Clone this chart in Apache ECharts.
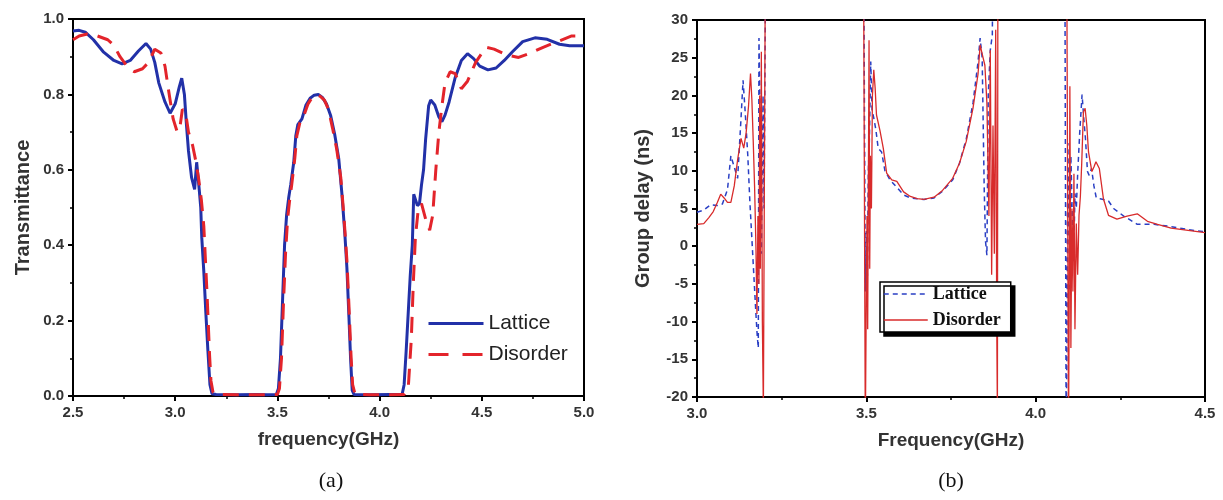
<!DOCTYPE html>
<html><head><meta charset="utf-8">
<script src="https://cdn.jsdelivr.net/npm/echarts@6/dist/echarts.min.js"></script>
<style>html,body{margin:0;padding:0;background:#fff}#c{width:1223px;height:500px}</style>
</head><body><div id="c"></div>
<script>
// ---------- (a) Transmittance ----------
const transFreqLattice = [2.50,2.53,2.56,2.60,2.65,2.70,2.74,2.78,2.82,2.857,2.88,2.90,2.92,2.95,2.975,3.00,3.02,3.032,3.045,3.055,3.065,3.08,3.095,3.10,3.105,3.113,3.118,3.125,3.13,3.14,3.15,3.16,3.17,3.18,3.20,3.30,3.40,3.45,3.495,3.505,3.515,3.525,3.535,3.545,3.555,3.565,3.58,3.59,3.60,3.62,3.64,3.66,3.68,3.70,3.72,3.74,3.76,3.78,3.80,3.815,3.83,3.84,3.85,3.858,3.866,3.875,3.95,4.05,4.11,4.12,4.13,4.14,4.15,4.16,4.167,4.175,4.185,4.195,4.205,4.215,4.225,4.24,4.25,4.27,4.29,4.305,4.32,4.34,4.37,4.40,4.43,4.46,4.49,4.53,4.57,4.61,4.65,4.70,4.76,4.82,4.88,4.93,5.00];
const transLattice = [0.968,0.970,0.965,0.945,0.912,0.890,0.881,0.890,0.915,0.935,0.920,0.885,0.830,0.780,0.750,0.775,0.820,0.843,0.800,0.720,0.650,0.580,0.548,0.548,0.620,0.625,0.545,0.500,0.420,0.330,0.220,0.120,0.030,0.006,0.004,0.003,0.004,0.003,0.004,0.020,0.100,0.250,0.400,0.480,0.525,0.560,0.620,0.690,0.720,0.735,0.772,0.790,0.798,0.800,0.792,0.775,0.745,0.695,0.630,0.540,0.430,0.340,0.210,0.100,0.015,0.004,0.003,0.004,0.004,0.030,0.120,0.220,0.320,0.400,0.535,0.535,0.505,0.510,0.560,0.600,0.680,0.770,0.785,0.772,0.740,0.728,0.745,0.780,0.845,0.890,0.908,0.895,0.875,0.865,0.870,0.890,0.913,0.940,0.950,0.946,0.933,0.929,0.929];
const transFreqDisorder = [2.50,2.53,2.57,2.62,2.67,2.70,2.73,2.77,2.80,2.84,2.87,2.90,2.93,2.95,2.965,2.975,2.99,3.01,3.025,3.035,3.05,3.065,3.085,3.10,3.115,3.128,3.14,3.148,3.155,3.162,3.168,3.175,3.185,3.20,3.30,3.40,3.50,3.51,3.52,3.53,3.54,3.55,3.56,3.57,3.585,3.595,3.61,3.63,3.65,3.67,3.69,3.71,3.73,3.75,3.77,3.79,3.81,3.825,3.84,3.85,3.86,3.868,3.88,3.95,4.05,4.12,4.14,4.155,4.165,4.175,4.19,4.205,4.225,4.245,4.26,4.275,4.29,4.305,4.32,4.345,4.37,4.40,4.43,4.47,4.52,4.56,4.62,4.68,4.74,4.80,4.87,4.94,5.00];
const transDisorder = [0.945,0.955,0.960,0.955,0.945,0.930,0.900,0.870,0.860,0.868,0.885,0.920,0.910,0.875,0.820,0.785,0.735,0.700,0.720,0.760,0.755,0.700,0.665,0.625,0.575,0.520,0.450,0.360,0.280,0.190,0.110,0.040,0.010,0.004,0.003,0.003,0.004,0.020,0.100,0.250,0.380,0.470,0.520,0.560,0.630,0.690,0.725,0.745,0.775,0.792,0.800,0.795,0.785,0.760,0.710,0.655,0.580,0.480,0.360,0.240,0.110,0.030,0.005,0.003,0.003,0.004,0.020,0.150,0.300,0.420,0.500,0.510,0.470,0.440,0.480,0.600,0.700,0.770,0.830,0.860,0.855,0.815,0.835,0.885,0.925,0.920,0.905,0.898,0.910,0.925,0.940,0.955,0.955];

// ---------- (b) Group delay ----------
const delayFreqLattice = [3.000,3.020,3.040,3.060,3.075,3.090,3.100,3.110,3.120,3.130,3.136,3.142,3.150,3.156,3.162,3.168,3.174,3.178,3.181,3.183,3.187,3.190,3.195,3.198,3.206,3.490,3.497,3.500,3.503,3.506,3.509,3.513,3.517,3.522,3.528,3.535,3.545,3.555,3.570,3.590,3.610,3.630,3.650,3.670,3.700,3.725,3.755,3.775,3.795,3.815,3.830,3.836,3.842,3.848,3.852,3.856,3.860,3.866,3.872,3.878,4.085,4.090,4.092,4.095,4.098,4.101,4.104,4.108,4.112,4.116,4.120,4.124,4.130,4.137,4.142,4.147,4.153,4.158,4.165,4.172,4.179,4.190,4.200,4.215,4.230,4.260,4.300,4.350,4.400,4.450,4.500];
const delayLattice = [4.5,4.8,5.5,5.4,5.6,7.5,12.0,10.5,9.0,17.0,22.0,18.0,12.0,6.0,1.0,-4.0,-9.0,-12.0,-13.5,27.6,15.0,-1.0,20.0,5.0,60,60,-6.0,2.0,-4.0,10.0,14.0,24.5,18.0,17.0,15.5,13.0,12.5,10.0,8.8,7.8,6.8,6.4,6.3,6.2,6.4,7.3,8.8,11.0,14.2,19.0,24.5,27.6,25.0,7.7,0.6,-1.2,20.0,26.0,28.0,60,60,-25,-15.0,13.7,3.3,-6.0,12.0,4.0,-2.0,7.0,5.0,9.6,15.0,20.1,17.0,14.3,9.9,9.4,10.3,8.0,6.4,6.3,6.2,6.0,5.0,4.0,2.9,2.9,2.6,2.2,1.9];
const delayFreqDisorder = [3.000,3.020,3.035,3.048,3.060,3.070,3.080,3.090,3.100,3.110,3.120,3.130,3.138,3.145,3.152,3.158,3.162,3.166,3.170,3.174,3.177,3.180,3.183,3.185,3.187,3.190,3.193,3.196,3.204,3.490,3.497,3.500,3.502,3.504,3.506,3.508,3.510,3.512,3.515,3.518,3.522,3.526,3.530,3.540,3.550,3.560,3.575,3.590,3.610,3.630,3.650,3.670,3.700,3.725,3.755,3.775,3.795,3.815,3.830,3.836,3.842,3.850,3.856,3.862,3.866,3.870,3.874,3.878,3.882,3.885,3.887,3.889,4.090,4.097,4.099,4.101,4.104,4.107,4.110,4.113,4.116,4.120,4.124,4.128,4.132,4.136,4.141,4.146,4.151,4.156,4.166,4.172,4.178,4.188,4.200,4.215,4.240,4.270,4.300,4.330,4.360,4.400,4.450,4.500];
const delayDisorder = [2.9,3.0,3.8,4.6,5.8,6.9,6.4,5.8,5.8,8.0,11.5,14.3,13.0,15.0,18.5,22.9,19.5,14.0,8.0,0.0,-9.0,4.0,-5.0,20.0,-3.0,25.8,-10.0,-22,60,60,-25,-6.0,4.0,-11.0,8.0,27.3,-3.0,12.0,5.0,20.0,23.4,21.0,17.4,15.4,13.0,9.7,8.8,8.6,7.2,6.6,6.3,6.2,6.5,7.4,9.0,11.0,13.9,18.3,22.9,26.7,25.5,24.0,19.0,4.0,26.0,-3.8,16.0,-1.0,28.7,-10.0,-22,60,60,-25,-8.0,21.2,-13.5,5.0,-6.0,9.6,-11.0,3.0,-3.8,4.1,6.6,11.0,17.8,18.3,16.0,12.5,9.9,10.5,11.2,10.3,6.3,4.1,3.6,4.0,4.3,3.3,2.9,2.4,2.1,1.8];

const seriesNames = ['Lattice','Disorder'];
const captions = ['(a)','(b)'];

function zip(a,b){return a.map((x,i)=>[x,b[i]]);}

const blueA = '#2231a8', redA = '#e3242b';
const blueB = '#2a3fc4', redB = '#d82b2b';
const axisTxt = {fontFamily:'Liberation Sans, Arial', fontWeight:'bold', color:'#333'};
const noSym = {color:'rgba(0,0,0,0)',borderColor:'rgba(0,0,0,0)',borderWidth:0,opacity:0};

function xAx(grid,min,max,name){
  return {gridIndex:grid,type:'value',min:min,max:max,interval:0.5,
    axisLine:{onZero:false,lineStyle:{color:'#000',width:2}},
    axisTick:{inside:false,length:5,lineStyle:{color:'#000',width:2}},
    minorTick:{show:true,splitNumber:2,length:3,lineStyle:{color:'#000',width:1.5}},
    splitLine:{show:false},
    axisLabel:Object.assign({fontSize:15,margin:9,formatter:v=>v.toFixed(1)},axisTxt),
    name:name,nameLocation:'middle',nameGap:34,
    nameTextStyle:Object.assign({fontSize:19},axisTxt)};
}
function yAx(grid,min,max,interval,name,fmt,gap){
  return {gridIndex:grid,type:'value',min:min,max:max,interval:interval,
    axisLine:{onZero:false,lineStyle:{color:'#000',width:2}},
    axisTick:{inside:false,length:5,lineStyle:{color:'#000',width:2}},
    minorTick:{show:true,splitNumber:2,length:3,lineStyle:{color:'#000',width:1.5}},
    splitLine:{show:false},
    axisLabel:Object.assign({fontSize:15,margin:9,formatter:fmt},axisTxt),
    name:name,nameLocation:'middle',nameGap:gap,
    nameTextStyle:Object.assign({fontSize:20},axisTxt)};
}

const chart = echarts.init(document.getElementById('c'),null,{renderer:'canvas'});
chart.setOption({
  backgroundColor:'#fff',
  animation:false,
  grid:[
    {left:73,right:639,top:19,bottom:104,show:true,borderColor:'#000',borderWidth:2,backgroundColor:'transparent'},
    {left:697,right:18,top:20,bottom:103,show:true,borderColor:'#000',borderWidth:2,backgroundColor:'transparent'}
  ],
  xAxis:[
    xAx(0,2.5,5.0,'frequency(GHz)'),
    xAx(1,3.0,4.5,'Frequency(GHz)')
  ],
  yAxis:[
    yAx(0,0,1.0,0.2,'Transmittance',v=>v.toFixed(1),40),
    yAx(1,-20,30,5,'Group delay (ns)',v=>String(v),44)
  ],
  legend:[
    {orient:'vertical',left:427,top:313,padding:0,itemWidth:55,itemHeight:14,itemGap:10,
     textStyle:{fontSize:21,fontFamily:'Liberation Sans, Arial',color:'#222'},
     data:[
       {name:seriesNames[0],itemStyle:noSym,lineStyle:{color:blueA,width:3,type:'solid'}},
       {name:seriesNames[1],itemStyle:noSym,lineStyle:{color:redA,width:3,type:[20,14]}}
     ]},
    {orient:'vertical',left:880,top:282,padding:[3,10,3,3],itemWidth:44,itemHeight:12,itemGap:8,
     backgroundColor:'#fff',borderColor:'#000',borderWidth:1.5,
     shadowColor:'#000',shadowBlur:0,shadowOffsetX:4,shadowOffsetY:4,
     textStyle:{fontSize:18,fontWeight:'bold',fontFamily:'Liberation Serif, Times New Roman',color:'#111'},
     data:[
       {name:seriesNames[0],itemStyle:noSym,lineStyle:{color:blueB,width:1.5,type:[5,4]}},
       {name:seriesNames[1],itemStyle:noSym,lineStyle:{color:redB,width:1.5,type:'solid'}}
     ]}
  ],
  graphic:[
    {type:'text',style:{text:captions[0],x:331,y:481,textAlign:'center',textVerticalAlign:'middle',font:'22px "Liberation Serif", serif',fill:'#111'}},
    {type:'text',style:{text:captions[1],x:951,y:481,textAlign:'center',textVerticalAlign:'middle',font:'22px "Liberation Serif", serif',fill:'#111'}}
  ],
  series:[
    {name:seriesNames[0],type:'line',xAxisIndex:0,yAxisIndex:0,data:zip(transFreqLattice,transLattice),
     symbol:'none',showSymbol:false,smooth:false,lineStyle:{color:blueA,width:3},itemStyle:{color:blueA}},
    {name:seriesNames[1],type:'line',xAxisIndex:0,yAxisIndex:0,data:zip(transFreqDisorder,transDisorder),
     symbol:'none',showSymbol:false,lineStyle:{color:redA,width:3,type:[16,10]},itemStyle:{color:redA}},
    {name:seriesNames[0],type:'line',xAxisIndex:1,yAxisIndex:1,data:zip(delayFreqLattice,delayLattice),clip:true,
     symbol:'none',showSymbol:false,lineStyle:{color:blueB,width:1.5,type:[5,4]},itemStyle:{color:blueB}},
    {name:seriesNames[1],type:'line',xAxisIndex:1,yAxisIndex:1,data:zip(delayFreqDisorder,delayDisorder),clip:true,
     symbol:'none',showSymbol:false,lineStyle:{color:redB,width:1.3},itemStyle:{color:redB}}
  ]
});
</script></body></html>
